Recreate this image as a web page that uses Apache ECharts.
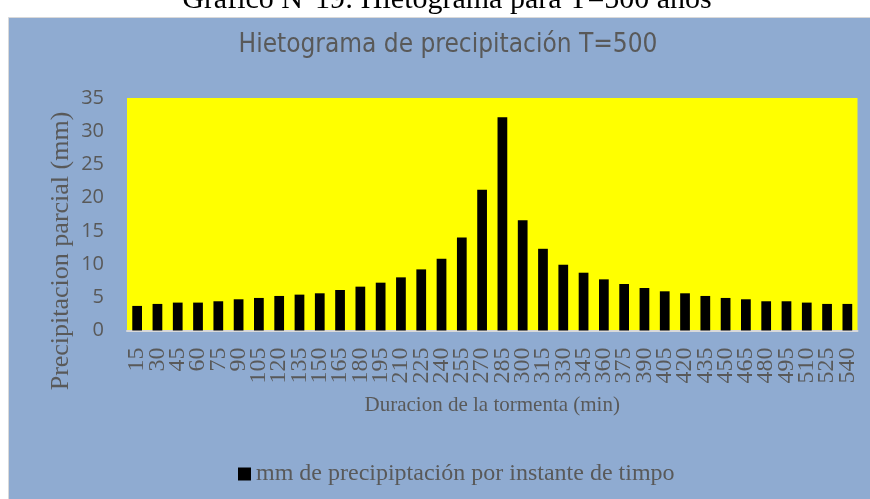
<!DOCTYPE html>
<html>
<head>
<meta charset="utf-8">
<script src="https://cdn.jsdelivr.net/npm/echarts@6/dist/echarts.min.js"></script>
<style>
html,body{margin:0;padding:0;background:#ffffff;}
#chart{width:870px;height:499px;}
</style>
</head>
<body>
<div id="chart"></div>
<script>
var categories = ['15','30','45','60','75','90','105','120','135','150','165','180','195','210','225','240','255','270','285','300','315','330','345','360','375','390','405','420','435','450','465','480','495','510','525','540'];
var values = [3.7,4.0,4.2,4.2,4.4,4.7,4.9,5.2,5.4,5.6,6.1,6.6,7.2,8.0,9.2,10.8,14.0,21.2,32.1,16.6,12.3,9.9,8.7,7.7,7.0,6.4,5.9,5.6,5.2,4.9,4.7,4.4,4.4,4.2,4.0,4.0];
var yTicks = {min: 0, max: 35, interval: 5};
var seriesName = 'mm de precipiptación por instante de timpo';
var chartTitle = 'Hietograma de precipitación T=500';
var docHeading = 'Gráfico N°19: Hietograma para T=500 años';
var xName = 'Duracion de la tormenta (min)';
var yName = 'Precipitacion parcial (mm)';

var chart = echarts.init(document.getElementById('chart'), null, {renderer: 'canvas'});
var grey = '#595959';
chart.setOption({
  animation: false,
  backgroundColor: '#ffffff',
  graphic: [
    {type: 'rect', z: -10, shape: {x: 8.5, y: 17.5, width: 880, height: 500},
     style: {fill: '#8FABD1', stroke: '#D9D9D9', lineWidth: 1}},
    {type: 'text', z: 10, x: 447, y: 0,
     style: {text: docHeading, font: '30px "Liberation Serif"', fill: '#000000', align: 'center', verticalAlign: 'middle'}},
    {type: 'text', z: 10, x: 61, y: 251, rotation: Math.PI / 2,
     style: {text: yName, font: '26px "Liberation Serif"', fill: grey, align: 'center', verticalAlign: 'middle'}}
  ],
  title: {
    text: chartTitle, left: 448, top: 32, padding: 0, textAlign: 'center',
    textStyle: {fontFamily: '"DejaVu Sans Condensed", "Roboto"', fontSize: 26, fontWeight: 'normal', color: grey}
  },
  legend: {
    data: [seriesName], left: 233, top: 457, itemWidth: 13, itemHeight: 13, itemGap: 5,
    icon: 'rect',
    textStyle: {fontFamily: '"Liberation Serif"', fontSize: 24, color: grey, padding: [0,0,0,0]}
  },
  grid: {left: 127, right: 12.5, top: 98, bottom: 168.5, show: true, backgroundColor: '#FFFF00', borderWidth: 0},
  xAxis: {
    type: 'category', data: categories,
    name: xName, nameLocation: 'middle', nameGap: 64,
    nameTextStyle: {fontFamily: '"Liberation Serif"', fontSize: 21, color: grey},
    axisLine: {show: true, lineStyle: {color: '#D9D9D9', width: 2}},
    axisTick: {show: false},
    axisLabel: {interval: 0, rotate: 90, margin: 17, fontFamily: '"Liberation Serif"', fontSize: 24, color: grey},
    splitLine: {show: false}
  },
  yAxis: {
    type: 'value', min: yTicks.min, max: yTicks.max, interval: yTicks.interval,
    axisLine: {show: false}, axisTick: {show: false}, splitLine: {show: false},
    axisLabel: {margin: 23, fontFamily: '"Open Sans"', fontSize: 20, color: grey}
  },
  series: [{
    name: seriesName, type: 'bar', data: values, barCategoryGap: '52%',
    itemStyle: {color: '#000000'}
  }]
});
</script>
</body>
</html>
